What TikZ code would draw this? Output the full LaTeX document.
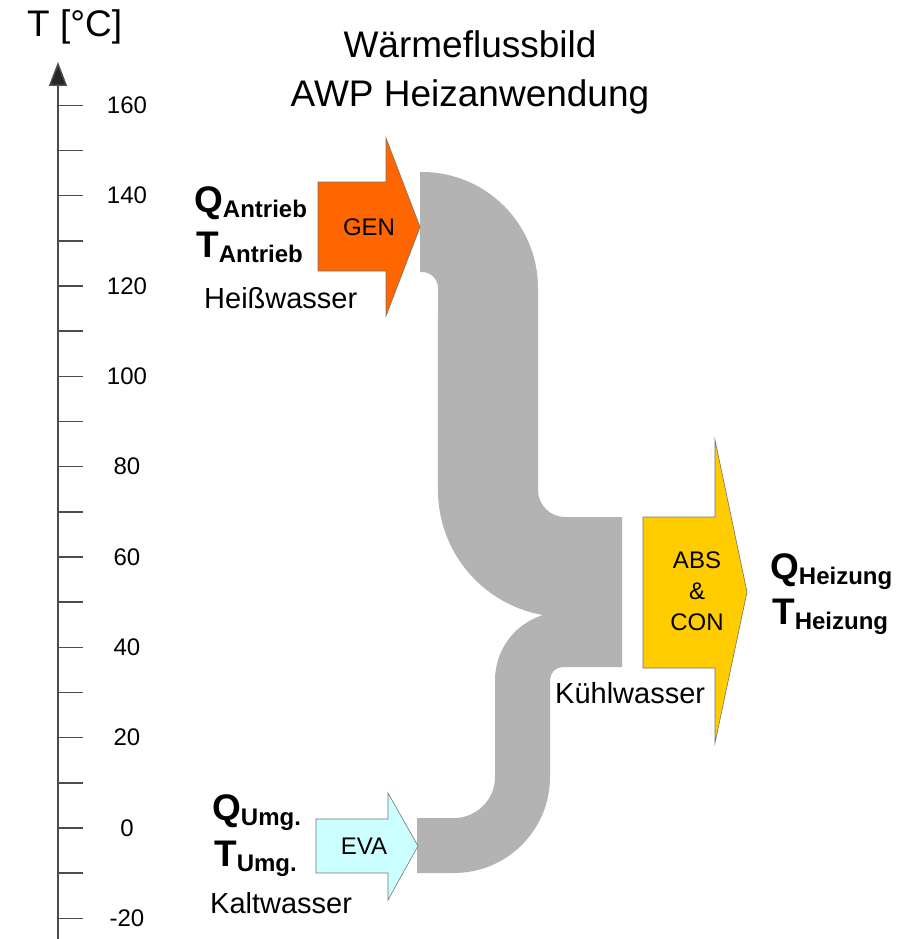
\documentclass[tikz,border=0pt]{standalone}
\usepackage{fontspec}
\setmainfont{Liberation Sans}
\usetikzlibrary{arrows.meta,positioning}

\definecolor{genorange}{HTML}{FF6600}
\definecolor{absyellow}{HTML}{FFCC00}
\definecolor{evacyan}{HTML}{CCFFFF}
\definecolor{pipegray}{HTML}{B3B3B3}

% big bold letter with bold index
\newcommand{\qtsub}[2]{\bfseries\fontsize{37}{37}\selectfont #1\raisebox{-5pt}{\fontsize{24}{24}\selectfont #2}}

\tikzset{
  axisline/.style={draw=black!70, line width=1.5pt},
  heatarrow/.style={fill=#1, draw=black!55, line width=0.6pt},
  pipe/.style={fill=pipegray},
  blocklabel/.style={font=\fontsize{24}{31}\selectfont, align=center},
  ticklabel/.style={font=\fontsize{24}{24}\selectfont},
  waterlabel/.style={font=\fontsize{29}{29}\selectfont, anchor=base west, inner sep=0pt},
  qtlabel/.style={anchor=base west, inner sep=0pt},
  titlelabel/.style={font=\fontsize{37}{37}\selectfont, anchor=base, inner sep=0pt}
}

\begin{document}
\begin{tikzpicture}[x=1pt,y=1pt]
    \useasboundingbox (0,0) rectangle (917,-939);

    % temperature axis
    \draw[axisline, -{Triangle[width=18pt,length=24pt,fill=black!85]}] (58,-939) -- (58,-62);
    \foreach \t in {-20,-10,...,160}
        \draw[axisline] (58,{-828+4.517*\t}) -- (83,{-828+4.517*\t});
    \foreach \t in {-20,0,...,160}
        \node[ticklabel] (tick\t) at (127,{-828+4.517*\t}) {\t};
    \node[anchor=base west, inner sep=0pt, font=\fontsize{37}{37}\selectfont] (unit) at (27,-37) {T [°C]};

    \node[titlelabel] (title1) at (470,-58) {Wärmeflussbild};
    \node[titlelabel] (title2) at (470,-107) {AWP Heizanwendung};

    % heat flow pipe
    \fill[pipe] (420,-172) -- (422,-172) arc[start angle=90, end angle=0, radius=116]
        -- (538,-490) arc[start angle=180, end angle=270, radius=27]
        -- (622,-517) -- (622,-667) -- (563,-667) arc[start angle=90, end angle=180, radius=13]
        -- (550,-777) arc[start angle=0, end angle=-90, radius=96]
        -- (417,-873) -- (417,-818) -- (454,-818) arc[start angle=-90, end angle=0, radius=41]
        -- (495,-680) arc[start angle=180, end angle=107.2, radius=68]
        arc[start angle=260, end angle=180, radius=127]
        -- (438,-288) arc[start angle=0, end angle=90, radius=16]
        -- (420,-272) -- cycle;

    % GEN
    \filldraw[heatarrow=genorange] (318,-182) -- (386,-182) -- (386,-138) -- (420,-227)
        -- (386,-316) -- (386,-271) -- (318,-271) -- cycle;
    \node[blocklabel] (gen) at (369,-227) {GEN};
    \node[qtlabel] (qgen) at (194,-212) {\qtsub{Q}{Antrieb}};
    \node[qtlabel] (tgen) at (196,-257) {\qtsub{T}{Antrieb}};
    \node[waterlabel] (hot) at (204,-308) {Heißwasser};

    % EVA
    \filldraw[heatarrow=evacyan] (316,-819) -- (388,-819) -- (388,-793) -- (418,-846)
        -- (388,-900) -- (388,-873) -- (316,-873) -- cycle;
    \node[blocklabel] (eva) at (364,-846) {EVA};
    \node[qtlabel] (qeva) at (212,-820) {\qtsub{Q}{Umg.}};
    \node[qtlabel] (teva) at (214,-866) {\qtsub{T}{Umg.}};
    \node[waterlabel] (cold) at (210,-913) {Kaltwasser};

    % ABS & CON
    \filldraw[heatarrow=absyellow] (643,-517) -- (715,-517) -- (715,-440) -- (747,-592)
        -- (715,-743) -- (715,-668) -- (643,-668) -- cycle;
    \node[blocklabel] (abs) at (697,-591) {ABS\\\&\\CON};
    \node[qtlabel] (qabs) at (770,-579) {\qtsub{Q}{Heizung}};
    \node[qtlabel] (tabs) at (772,-624) {\qtsub{T}{Heizung}};
    \node[waterlabel] (cool) at (555,-703) {Kühlwasser};
\end{tikzpicture}
\end{document}
